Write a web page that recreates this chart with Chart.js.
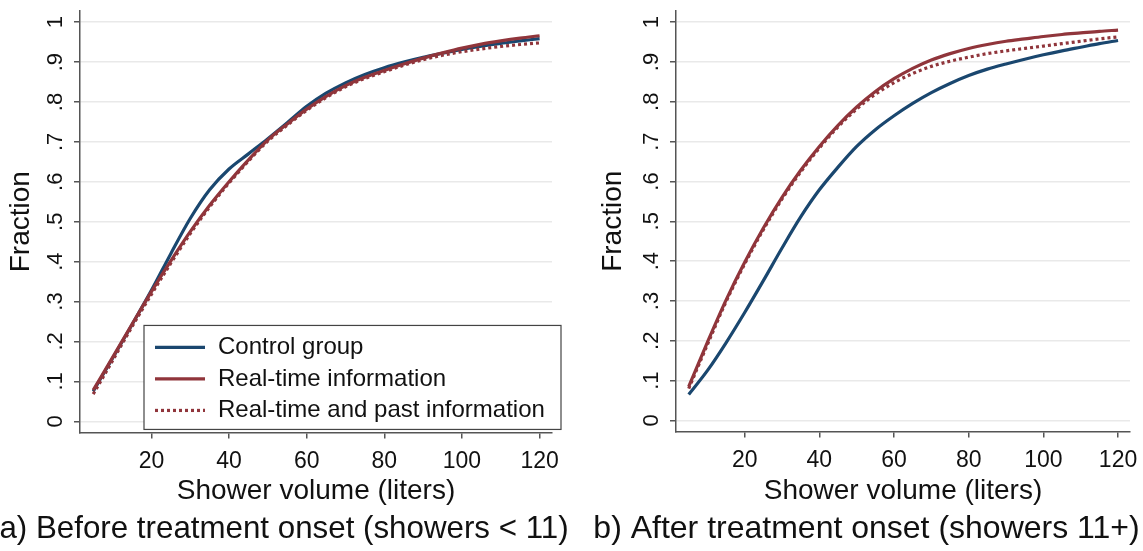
<!DOCTYPE html>
<html>
<head>
<meta charset="utf-8">
<script src="https://cdn.jsdelivr.net/npm/chart.js@4.4.1/dist/chart.umd.min.js"></script>
<style>
  html, body { margin: 0; padding: 0; background: #fff; }
  body { width: 1143px; height: 551px; position: relative; overflow: hidden; }
  .panel { position: absolute; top: 0; }
  #left { left: -14px; }
  #right { left: 590px; }
</style>
</head>
<body>
<div class="panel" id="left"><canvas id="chartBefore" width="596" height="551"></canvas></div>
<div class="panel" id="right"><canvas id="chartAfter" width="553" height="551"></canvas></div>
<script>
// shower volume (liters)
const volumes = [5, 10, 15, 20, 25, 30, 35, 40, 45, 50, 55, 60, 65, 70, 75, 80, 85, 90, 95, 100, 105, 110, 115, 120];

// a) before treatment onset
const beforeControl  = [0.075, 0.158, 0.242, 0.328, 0.42, 0.508, 0.58, 0.632, 0.67, 0.708, 0.748, 0.789, 0.822, 0.848, 0.869, 0.886, 0.9, 0.912, 0.922, 0.932, 0.94, 0.947, 0.953, 0.959];
const beforeRealtime = [0.078, 0.16, 0.243, 0.325, 0.402, 0.475, 0.541, 0.60, 0.655, 0.705, 0.745, 0.782, 0.814, 0.841, 0.862, 0.879, 0.895, 0.91, 0.923, 0.935, 0.945, 0.953, 0.96, 0.966];
const beforePast     = [0.068, 0.152, 0.237, 0.318, 0.396, 0.47, 0.537, 0.597, 0.652, 0.702, 0.742, 0.779, 0.811, 0.838, 0.859, 0.876, 0.892, 0.906, 0.917, 0.926, 0.933, 0.939, 0.944, 0.948];

// b) after treatment onset
const afterControl  = [0.065, 0.125, 0.195, 0.271, 0.351, 0.433, 0.511, 0.579, 0.636, 0.688, 0.73, 0.765, 0.796, 0.823, 0.846, 0.866, 0.882, 0.895, 0.907, 0.918, 0.928, 0.937, 0.946, 0.954];
const afterRealtime = [0.085, 0.196, 0.302, 0.397, 0.483, 0.56, 0.628, 0.688, 0.741, 0.787, 0.826, 0.858, 0.884, 0.905, 0.921, 0.934, 0.944, 0.952, 0.958, 0.964, 0.969, 0.973, 0.977, 0.98];
const afterPast     = [0.08, 0.19, 0.298, 0.393, 0.479, 0.556, 0.624, 0.684, 0.737, 0.782, 0.819, 0.848, 0.871, 0.889, 0.902, 0.912, 0.921, 0.928, 0.934, 0.94, 0.946, 0.952, 0.958, 0.963];

const seriesNames = ['Control group', 'Real-time information', 'Real-time and past information'];
const xTicks = [20, 40, 60, 80, 100, 120];
const yTicks = [0, 0.1, 0.2, 0.3, 0.4, 0.5, 0.6, 0.7, 0.8, 0.9, 1];
const yTickLabels = ['0', '.1', '.2', '.3', '.4', '.5', '.6', '.7', '.8', '.9', '1'];

const FONT = '"Liberation Sans", Arial, sans-serif';
const AXIS = '#555555';
const TEXT = '#111111';
Chart.defaults.font.family = FONT;
Chart.defaults.color = TEXT;

function pts(values) {
    return volumes.map((v, i) => ({ x: v, y: values[i] }));
}

// legend drawn as a boxed key inside the plot, like the Stata one
const boxLegend = {
    id: 'boxLegend',
    afterDatasetsDraw(chart, args, opts) {
        if (!opts.show) return;
        const ctx = chart.ctx;
        const ca = chart.chartArea;
        const x0 = ca.left + 64, x1 = ca.right + 9;
        const y1 = ca.bottom - 3, y0 = y1 - 104;
        ctx.save();
        ctx.fillStyle = '#fff';
        ctx.fillRect(x0, y0, x1 - x0, y1 - y0);
        ctx.strokeStyle = '#444';
        ctx.lineWidth = 1.2;
        ctx.strokeRect(x0, y0, x1 - x0, y1 - y0);
        chart.data.datasets.forEach((ds, i) => {
            const y = y0 + 22 + i * 31.5;
            ctx.beginPath();
            ctx.setLineDash(ds.borderDash || []);
            ctx.lineCap = 'butt';
            ctx.strokeStyle = ds.borderColor;
            ctx.lineWidth = ds.borderWidth;
            ctx.moveTo(x0 + 11, y);
            ctx.lineTo(x0 + 61, y);
            ctx.stroke();
            ctx.setLineDash([]);
            ctx.fillStyle = TEXT;
            ctx.font = '24px ' + FONT;
            ctx.textBaseline = 'middle';
            ctx.fillText(ds.label, x0 + 74, y);
        });
        ctx.restore();
    }
};

function makeChart(id, control, realtime, past, caption, captionSize, yWidth, titlePad, padRight, showLegend) {
    const ctx = document.getElementById(id).getContext('2d');
    return new Chart(ctx, {
        type: 'line',
        data: {
            datasets: [
                { label: seriesNames[0], data: pts(control), borderColor: '#1a476f', borderWidth: 3.2, order: 3 },
                { label: seriesNames[1], data: pts(realtime), borderColor: '#90353b', borderWidth: 3.2, order: 2 },
                { label: seriesNames[2], data: pts(past), borderColor: '#90353b', borderWidth: 3.2, borderDash: [3, 3], borderCapStyle: 'butt', order: 1 }
            ]
        },
        options: {
            responsive: false,
            animation: false,
            layout: { padding: { top: 11, right: 0, left: 0, bottom: 0 } },
            elements: {
                point: { radius: 0 },
                line: { cubicInterpolationMode: 'monotone', fill: false }
            },
            scales: {
                x: {
                    type: 'linear',
                    min: 1.6,
                    max: 123.2,
                    afterBuildTicks: s => { s.ticks = xTicks.map(v => ({ value: v })); },
                    afterFit: s => { s.height = 78; s.paddingLeft = 0; s.paddingRight = 0; },
                    ticks: { padding: 9, maxRotation: 0, autoSkip: false, color: TEXT, font: { size: 23 } },
                    grid: { drawOnChartArea: false, tickColor: AXIS, tickLength: 6, lineWidth: 1.5 },
                    border: { color: AXIS, width: 1.5 },
                    title: { display: true, text: 'Shower volume (liters)', color: TEXT, font: { size: 28 }, padding: { top: 0, bottom: 2 } }
                },
                y: {
                    type: 'linear',
                    min: -0.028,
                    max: 1.028,
                    afterBuildTicks: s => { s.ticks = yTicks.map(v => ({ value: v })); },
                    afterFit: s => { s.width = yWidth; s.paddingTop = 0; s.paddingBottom = 0; },
                    ticks: {
                        minRotation: 90, maxRotation: 90, crossAlign: 'center', padding: 9,
                        color: TEXT, font: { size: 22 },
                        callback: v => yTickLabels[yTicks.indexOf(v)]
                    },
                    grid: { color: '#e9e9e9', lineWidth: 1.5, tickColor: AXIS, tickLength: 6 },
                    border: { color: AXIS, width: 1.5 },
                    title: { display: true, text: 'Fraction', color: TEXT, font: { size: 28 }, padding: { top: titlePad, bottom: 0 } }
                },
                // empty right-hand strip so the caption keeps the full canvas width
                spacer: {
                    type: 'linear',
                    position: 'right',
                    display: true,
                    afterFit: s => { s.width = padRight; s.paddingTop = 0; s.paddingBottom = 0; },
                    grid: { display: false },
                    border: { display: false },
                    ticks: { display: false }
                }
            },
            plugins: {
                legend: { display: false },
                tooltip: { enabled: false },
                title: {
                    display: true,
                    position: 'bottom',
                    text: caption,
                    color: TEXT,
                    font: { size: captionSize, weight: 'normal' },
                    padding: { top: 0, bottom: 3 }
                },
                boxLegend: { show: showLegend }
            }
        },
        plugins: [boxLegend]
    });
}

makeChart('chartBefore', beforeControl, beforeRealtime, beforePast,
    'a) Before treatment onset (showers < 11)', 31.3, 94, 18, 30, true);
makeChart('chartAfter', afterControl, afterRealtime, afterPast,
    'b) After treatment onset (showers 11+)', 32, 86, 6, 13, false);
</script>
</body>
</html>
